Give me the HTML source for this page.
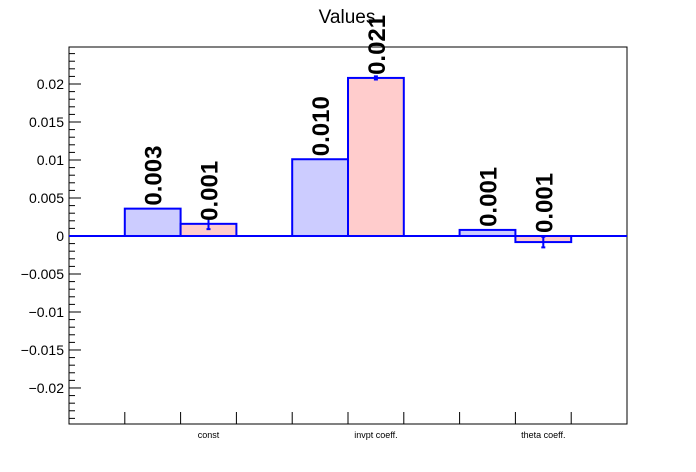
<!DOCTYPE html>
<html><head><meta charset="utf-8"><style>
html,body{margin:0;padding:0;background:#fff;}
svg{display:block;font-family:"Liberation Sans",sans-serif;}
</style></head><body>
<svg id="chart" width="696" height="472" xmlns="http://www.w3.org/2000/svg">
<text x="347" y="23" font-size="19" text-anchor="middle">Values</text>
<g id="plot"></g>
</svg>
<script>
const categories = ["const", "invpt coeff.", "theta coeff."];
const seriesA = [0.0036, 0.0101, 0.0008];
const seriesB = [0.0016, 0.0208, -0.0008];
const errorsB = [0.0007, 0.0002, 0.0007];
const labelsA = ["0.003", "0.010", "0.001"];
const labelsB = ["0.001", "0.021", "0.001"];
const yTicks = [0.02, 0.015, 0.01, 0.005, 0, -0.005, -0.01, -0.015, -0.02];
const yTickLabels = ["0.02", "0.015", "0.01", "0.005", "0", "\u22120.005", "\u22120.01", "\u22120.015", "\u22120.02"];

const L=69,R=627,T=47,B=424;
const yMin=-0.02474,yMax=0.02487;
function y(v){return T+(yMax-v)/(yMax-yMin)*(B-T);}
function x(u){return L+u/10*(R-L);}
const NS="http://www.w3.org/2000/svg";
const g=document.getElementById('plot');
function mk(tag,attrs,parent){const e=document.createElementNS(NS,tag);for(const k in attrs)e.setAttribute(k,attrs[k]);(parent||g).appendChild(e);return e;}

// frame
const frame=mk('rect',{x:L,y:T,width:R-L,height:B-T,fill:'none',stroke:'#000','stroke-width':1});



// y ticks
for(let v=-0.024;v<=0.0245;v+=0.001){
  const vv=Math.round(v*1000)/1000;
  const major=Math.abs(Math.round(vv*1000)%5)===0;
  const t=mk('line',{x1:L,x2:L+(major?12:6),y1:y(vv),y2:y(vv),stroke:'#000','stroke-width':1});
  
  
}
yTicks.forEach((v,i)=>{
  const t=mk('text',{x:64,y:y(v)+5,'font-size':14,'text-anchor':'end'});
  t.textContent=yTickLabels[i];
  
  
});
// x ticks
for(let u=1;u<=9;u++){
  const t=mk('line',{x1:x(u),x2:x(u),y1:B,y2:B-12,stroke:'#000','stroke-width':1});
  
  
}
categories.forEach((c,i)=>{
  const t=mk('text',{x:x(3*i+2.5),y:438,'font-size':9,'text-anchor':'middle'});
  t.textContent=c;
  
  
});

function bar(u0,v,fill,name){
  const y0=y(0),y1=y(v);
  const r=mk('rect',{x:x(u0),y:Math.min(y0,y1),width:x(u0+1)-x(u0),height:Math.abs(y1-y0),fill:fill,stroke:'#0000ff','stroke-width':2});
  
  
}
function label(u,v,txt){
  const yy=y(Math.max(v,0))-3;
  const t=mk('text',{x:0,y:0,'font-size':24,'font-weight':'bold',transform:`translate(${x(u)+9},${yy}) rotate(-90)`});
  t.textContent=txt;
  
  
}
categories.forEach((c,i)=>{
  const b=3*i+1;
  bar(b,seriesA[i],'#ccccff','bar-a-'+i);
  bar(b+1,seriesB[i],'#ffcccc','bar-b-'+i);
  const cx=x(b+1.5);
  const e=mk('path',{d:`M${cx},${y(seriesB[i]+errorsB[i])}V${y(seriesB[i]-errorsB[i])}M${cx-2},${y(seriesB[i]+errorsB[i])}H${cx+2}M${cx-2},${y(seriesB[i]-errorsB[i])}H${cx+2}`,stroke:'#0000ff','stroke-width':2,fill:'none'});
  
  
  label(b+0.5,seriesA[i],labelsA[i]);
  label(b+1.5,seriesB[i],labelsB[i]);
});
const z=mk('line',{x1:L,x2:R,y1:y(0),y2:y(0),stroke:'#0000ff','stroke-width':2});


</script>
</body></html>
